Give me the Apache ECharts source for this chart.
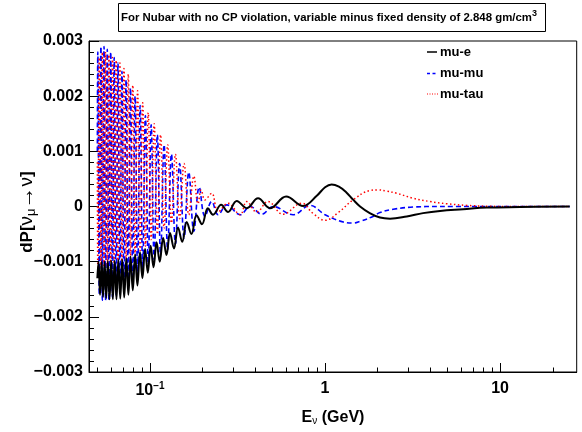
<!DOCTYPE html>
<html><head><meta charset="utf-8">
<script src="https://cdn.jsdelivr.net/npm/echarts@6/dist/echarts.min.js"></script>
<style>html,body{margin:0;padding:0;background:#fff}#c{width:582px;height:432px}</style>
</head><body><div id="c"></div>
<script>
// ---- data ----
const eMuE = [0.0500,0.0508,0.0518,0.0529,0.0539,0.0550,0.0562,0.0574,0.0587,0.0600,0.0613,0.0628,0.0643,0.0659,0.0676,0.0693,0.0712,0.0732,0.0752,0.0774,0.0797,0.0822,0.0847,0.0876,0.0905,0.0937,0.0971,0.1008,0.1047,0.1090,0.1136,0.1188,0.1242,0.1300,0.1370,0.1445,0.1527,0.1620,0.1724,0.1845,0.1980,0.2140,0.2290,0.2550,0.2790,0.3130,0.3570,0.4140,0.4850,0.5990,0.7490,0.900,1.000,1.090,1.200,1.320,1.450,1.585,1.800,2.060,2.350,2.930,3.630,4.540,6.150,8.400,13.00,25.00];
const dpMuE = [-0.00130,-0.00100,-0.00160,-0.00100,-0.00164,-0.00100,-0.00166,-0.00099,-0.00168,-0.00098,-0.00168,-0.00098,-0.00168,-0.00097,-0.00167,-0.00096,-0.00165,-0.00094,-0.00160,-0.00091,-0.00152,-0.00087,-0.00143,-0.00083,-0.00130,-0.00077,-0.00120,-0.00071,-0.00110,-0.00065,-0.00100,-0.00057,-0.00088,-0.00048,-0.00076,-0.00038,-0.00064,-0.00028,-0.00050,-0.00016,-0.00032,-0.00003,-0.00015,0.00003,-0.00010,0.00010,-0.00003,0.00015,-0.00003,0.00018,0.00001,0.00020,0.00035,0.00040,0.00036,0.00026,0.00012,0.00000,-0.00012,-0.00020,-0.00022,-0.00018,-0.00012,-0.00008,-0.00005,-0.00002,-0.00001,0.0];

const eMuMu = [0.0500,0.0503,0.0513,0.0524,0.0534,0.0546,0.0557,0.0570,0.0582,0.0596,0.0610,0.0624,0.0640,0.0656,0.0673,0.0691,0.0710,0.0730,0.0751,0.0773,0.0797,0.0822,0.0849,0.0878,0.0908,0.0941,0.0977,0.1015,0.1056,0.1101,0.1149,0.1203,0.1261,0.1325,0.1397,0.1476,0.1565,0.1665,0.1780,0.1910,0.2060,0.2250,0.2450,0.2750,0.3270,0.3730,0.4350,0.5050,0.6560,0.8200,1.000,1.270,1.450,1.580,1.880,2.060,2.450,3.180,4.500,25.00];
const dpMuMu = [0.0010,0.0028,-0.0016,0.0029,-0.0017,0.0029,-0.0017,0.00285,-0.0017,0.0028,-0.00165,0.0027,-0.0016,0.0026,-0.00155,0.00245,-0.0015,0.0023,-0.0014,0.00215,-0.00133,0.0020,-0.00126,0.00183,-0.00115,0.00165,-0.00105,0.00148,-0.00097,0.0013,-0.00088,0.00112,-0.00078,0.00095,-0.00068,0.00078,-0.00057,0.00062,-0.00045,0.00035,-0.00018,0.00009,-0.00015,0.00003,-0.00015,0.0,-0.00014,0.0,-0.00015,0.00002,-0.00015,-0.00028,-0.00030,-0.00027,-0.00018,-0.00011,-0.00005,-0.00001,0.0,0.0];

const eMuTau = [0.0500,0.0503,0.0513,0.0524,0.0534,0.0546,0.0557,0.0570,0.0582,0.0596,0.0610,0.0624,0.0640,0.0656,0.0673,0.0691,0.0710,0.0730,0.0751,0.0773,0.0797,0.0822,0.0849,0.0878,0.0908,0.0941,0.0977,0.1015,0.1056,0.1101,0.1149,0.1203,0.1261,0.1325,0.1397,0.1476,0.1565,0.1665,0.1780,0.1880,0.1960,0.2060,0.2250,0.2450,0.2790,0.3270,0.3570,0.4070,0.4720,0.5750,0.7360,0.850,1.000,1.200,1.445,1.810,2.000,2.250,2.570,3.180,3.980,4.960,6.450,8.400,12.00,25.00];
const dpMuTau = [0.0008,-0.0011,0.0027,-0.0011,0.0028,-0.0011,0.0028,-0.00108,0.00275,-0.00106,0.0027,-0.00104,0.00265,-0.00102,0.0026,-0.0010,0.0025,-0.00097,0.0024,-0.00093,0.0022,-0.00088,0.0021,-0.0008,0.00188,-0.00072,0.0017,-0.0006,0.0015,-0.0005,0.0013,-0.0004,0.00112,-0.0003,0.00095,-0.00022,0.00078,-0.00015,0.00055,0.00005,0.0003,0.00012,0.00024,-0.0001,0.00006,-0.00015,0.00009,-0.0001,0.00009,-0.00014,0.00006,-0.00012,-0.00025,-0.0001,0.00012,0.00029,0.0003,0.00028,0.00024,0.00015,0.00009,0.00005,0.00002,0.000005,0.0,0.0];

const seriesNames = ['mu-e','mu-mu','mu-tau'];
const xMajorTicks = [0.1,1,10];
const xMinorTicks = [0.05,0.06,0.07,0.08,0.09,0.2,0.3,0.4,0.5,0.6,0.7,0.8,0.9,2,3,4,5,6,7,8,9,20];
const xMajorLabels = {'-1':'{b|10}{s|\u22121}', '0':'{b|1}', '1':'{b|10}'};
const titleText = 'For Nubar with no CP violation, variable minus fixed density of 2.848 gm/cm';

// ---- chart ----
const FONT = '"Liberation Sans", Arial, Helvetica, sans-serif';
const X_MIN = 0.0448, X_MAX = 27.4;
const GRID = {left:89, top:41, right:5.3, bottom:60};
const zip = (a,b) => a.map((v,i)=>[v,b[i]]);
const chart = echarts.init(document.getElementById('c'), null, {renderer:'canvas'});
function isPow10(v){const l=Math.log10(v);return Math.abs(l-Math.round(l))<1e-6;}

const graphicEls = [
    {type:'rect', shape:{x:118.5,y:3.5,width:427,height:28}, style:{fill:'#fff', stroke:'#000', lineWidth:1}},
    {type:'text', x:329, y:17.5, style:{text:'{t|'+titleText+'}{s|3}', align:'center', verticalAlign:'middle',
      rich:{t:{fontFamily:FONT,fontWeight:'bold',fontSize:11.4,fill:'#000'}, s:{fontFamily:FONT,fontWeight:'bold',fontSize:9,fill:'#000',padding:[0,0,7,0]}}}},
    {type:'line', shape:{x1:427,y1:52,x2:437,y2:52}, style:{stroke:'#000', lineWidth:1.5}},
    {type:'line', shape:{x1:427,y1:73.5,x2:437,y2:73.5}, style:{stroke:'#0000ff', lineWidth:1.5, lineDash:[3,2.5]}},
    {type:'line', shape:{x1:427,y1:94,x2:438,y2:94}, style:{stroke:'#ff0000', lineWidth:1.2, lineDash:[1,1.5]}},
    {type:'text', x:440, y:52, style:{text:seriesNames[0], fontFamily:FONT, fontWeight:'bold', fontSize:13, fill:'#000', verticalAlign:'middle'}},
    {type:'text', x:440, y:73.5, style:{text:seriesNames[1], fontFamily:FONT, fontWeight:'bold', fontSize:13, fill:'#000', verticalAlign:'middle'}},
    {type:'text', x:440, y:94, style:{text:seriesNames[2], fontFamily:FONT, fontWeight:'bold', fontSize:13, fill:'#000', verticalAlign:'middle'}},
    {type:'text', x:333, y:418, style:{text:'{a|E}{n|\u03bd}{a| (GeV)}', align:'center', verticalAlign:'middle',
      rich:{a:{fontFamily:FONT,fontWeight:'bold',fontSize:16,fill:'#000'}, n:{fontFamily:FONT,fontSize:10,fill:'#000',padding:[6,0,0,0]}}}},
    {type:'text', x:27, y:212, rotation:Math.PI/2, style:{text:'{a|dP[}{n|\u03bd}{m|\u03bc}{r|\u2192}{n|\u03bd}{a|]}', align:'center', verticalAlign:'middle',
      rich:{a:{fontFamily:FONT,fontWeight:'bold',fontSize:17,fill:'#000'}, n:{fontFamily:FONT,fontSize:19,fill:'#000'}, r:{fontFamily:FONT,fontSize:22,fill:'#000'}, m:{fontFamily:FONT,fontSize:13,fill:'#000',padding:[9,0,0,0]}}}}
];

chart.setOption({
  animation:false,
  backgroundColor:'#fff',
  grid:Object.assign({show:true, borderColor:'#000', borderWidth:1, backgroundColor:'transparent'}, GRID),
  xAxis:[
    {type:'log', logBase:10, min:X_MIN, max:X_MAX, position:'bottom',
      axisLine:{show:true, onZero:false, lineStyle:{color:'#000', width:1}},
      axisTick:{show:true, inside:true, length:9, customValues:xMajorTicks, lineStyle:{color:'#000', width:1}},
      splitLine:{show:false}, minorTick:{show:false},
      axisLabel:{margin:9, customValues:xMajorTicks,
        formatter:(v)=>{ if(!isPow10(v)) return ''; const k=String(Math.round(Math.log10(v))); return xMajorLabels[k]||''; },
        rich:{b:{fontFamily:FONT,fontWeight:'bold',fontSize:16,color:'#000'}, s:{fontFamily:FONT,fontWeight:'bold',fontSize:10,color:'#000',padding:[0,0,10,0]}}}
    },
    {type:'log', logBase:10, min:X_MIN, max:X_MAX, position:'bottom', offset:0,
      axisLine:{show:false, onZero:false},
      axisTick:{show:true, inside:true, length:4.5, customValues:xMinorTicks, lineStyle:{color:'#000', width:1}},
      axisLabel:{show:false}, splitLine:{show:false}, minorTick:{show:false}
    }
  ],
  yAxis:{type:'value', min:-0.003, max:0.003, interval:0.001,
    axisLine:{show:true, onZero:false, lineStyle:{color:'#000', width:1}},
    axisTick:{show:true, inside:true, length:10, lineStyle:{color:'#000'}},
    minorTick:{show:true, splitNumber:5, length:5, lineStyle:{color:'#000'}},
    splitLine:{show:false},
    axisLabel:{margin:6, fontFamily:FONT, fontWeight:'bold', fontSize:16, color:'#000',
      formatter:(v)=>{ if(Math.abs(v)<1e-9) return '0'; const s=Math.abs(v).toFixed(3); return v<0?'\u2212'+s:s; }}
  },
  series:[
    {name:seriesNames[1], type:'line', xAxisIndex:0, data:zip(eMuMu,dpMuMu), showSymbol:false, smooth:0.4, z:2,
      lineStyle:{color:'#0000ff', width:1.6, type:[5,3]}},
    {name:seriesNames[2], type:'line', xAxisIndex:0, data:zip(eMuTau,dpMuTau), showSymbol:false, smooth:0.4, z:3,
      lineStyle:{color:'#ff0000', width:1.5, type:[1.5,2.5]}},
    {name:seriesNames[0], type:'line', xAxisIndex:0, data:zip(eMuE,dpMuE), showSymbol:false, smooth:0.4, z:4,
      lineStyle:{color:'#000000', width:2}}
  ],
  graphic: {elements: graphicEls}
});
</script></body></html>
